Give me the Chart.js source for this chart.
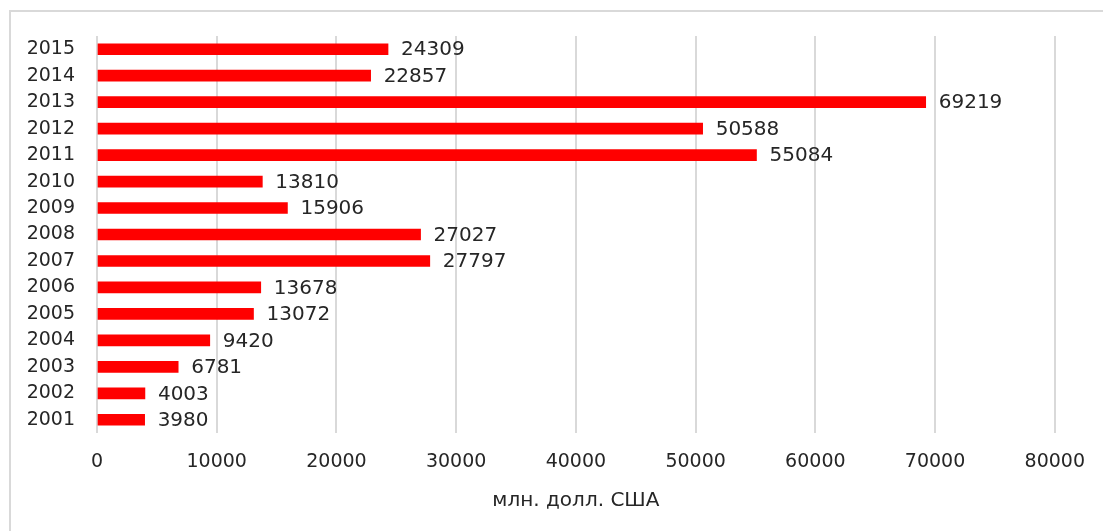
<!DOCTYPE html>
<html>
<head>
<meta charset="utf-8">
<script src="https://cdn.jsdelivr.net/npm/chart.js@4"></script>
<style>
    html, body { margin: 0; padding: 0; background: #fff; overflow: hidden; }
</style>
</head>
<body>
<canvas id="chart" width="1103" height="531"></canvas>
<script>
// Data (bottom to top)
const years = ['2001', '2002', '2003', '2004', '2005', '2006', '2007', '2008',
               '2009', '2010', '2011', '2012', '2013', '2014', '2015'];
const values = [3980, 4003, 6781, 9420, 13072, 13678, 27797, 27027,
                15906, 13810, 55084, 50588, 69219, 22857, 24309];
const xTicks = [0, 10000, 20000, 30000, 40000, 50000, 60000, 70000, 80000];
const axisTitle = 'млн. долл. США';

const FONT = 'DejaVu Sans';
const TEXT = '#262626';

// Outer frame: only the top and left edges are visible in the picture
const frame = {
    id: 'frame',
    beforeDraw(chart) {
        const ctx = chart.ctx;
        ctx.save();
        ctx.strokeStyle = '#d9d9d9';
        ctx.lineWidth = 2;
        ctx.beginPath();
        ctx.moveTo(10, chart.height);
        ctx.lineTo(10, 11);
        ctx.lineTo(chart.width, 11);
        ctx.stroke();
        ctx.restore();
    }
};

// Value labels right of each bar
const barLabels = {
    id: 'barLabels',
    afterDatasetsDraw(chart) {
        const ctx = chart.ctx;
        const meta = chart.getDatasetMeta(0);
        ctx.save();
        ctx.font = '20px "' + FONT + '"';
        ctx.fillStyle = TEXT;
        ctx.textAlign = 'left';
        ctx.textBaseline = 'middle';
        meta.data.forEach((bar, i) => {
            ctx.fillText(String(values[i]), bar.x + 13, bar.y + 1);
        });
        ctx.restore();
    }
};

new Chart(document.getElementById('chart'), {
    type: 'bar',
    data: {
        labels: years,
        datasets: [{
            data: values,
            backgroundColor: '#ff0000',
            borderWidth: 0,
            barThickness: 11
        }]
    },
    options: {
        indexAxis: 'y',
        responsive: false,
        animation: false,
        layout: { padding: { top: 36, right: 47, left: 0, bottom: 18 } },
        plugins: {
            legend: { display: false },
            tooltip: { enabled: false }
        },
        scales: {
            x: {
                min: 0,
                max: 80000,
                afterBuildTicks(scale) {
                    scale.ticks = xTicks.map(v => ({ value: v }));
                },
                afterFit(scale) { scale.height = 80; },
                grid: { color: '#d9d9d9', lineWidth: 2, drawTicks: false },
                border: { display: false },
                ticks: {
                    padding: 18,
                    color: TEXT,
                    font: { family: FONT, size: 19 },
                    callback: v => String(v)
                },
                title: {
                    display: true,
                    text: axisTitle,
                    color: TEXT,
                    font: { family: FONT, size: 20 },
                    padding: { top: 10, bottom: 0 }
                }
            },
            y: {
                reverse: true,
                afterFit(scale) { scale.width = 97; },
                grid: { display: false, drawTicks: false },
                border: { display: false },
                ticks: {
                    padding: 22,
                    color: TEXT,
                    font: { family: FONT, size: 19 }
                }
            }
        }
    },
    plugins: [frame, barLabels]
});
</script>
</body>
</html>
